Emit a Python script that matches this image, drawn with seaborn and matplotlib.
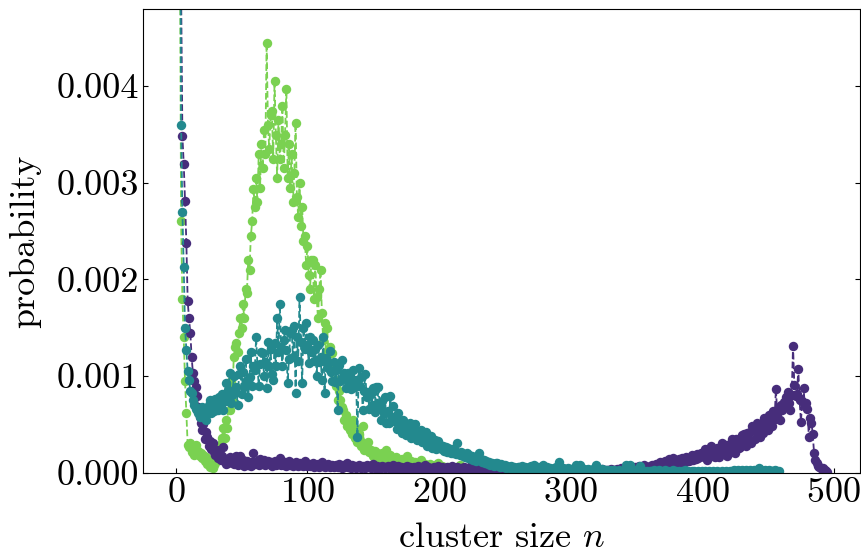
import numpy as np
import matplotlib
matplotlib.use("Agg")
import matplotlib.pyplot as plt
import seaborn as sns

# probabilities, in units of 1e-4, for cluster sizes n = 1, 2, 3, ...
green_p = [
    400, 150, 60, 26, 18, 14, 9.5, 6.2, 2.9, 2.7, 3.1, 2.2,
    2.5, 1.8, 2.9, 2.0, 2.3, 1.7, 2.1, 1.5, 1.8, 1.2, 1.6, 0.9, 1.3, 0.6, 1.0, 0.5, 0.8, 1.0, 1.3, 1.8, 2.4, 3.0, 3.6,
    4.6, 3.6, 5.5, 4.6, 7.5, 6.5, 9.5, 7.5, 12.0, 13.0, 13.4, 12.5, 14.5, 16.0, 15.0, 17.5, 16.0, 19.0, 18.6, 22.0, 21.0, 24.5, 26.0, 29.4, 27.5,
    30.5, 28.0, 33.0, 29.5, 34.0, 31.5, 35.5, 33.0, 44.5, 36.0, 33.5, 37.0, 37.4, 32.5, 40.5, 35.0, 30.5, 36.5, 32.5, 34.0,
    38.0, 31.5, 35.0, 39.7, 30.5, 34.0, 29.5, 33.0, 28.0, 31.0, 36.2, 28.5, 26.5, 30.0, 25.5, 27.5, 24.0, 24.5, 21.5, 23.5,
    20.5, 19.0, 22.0, 22.0, 18.0, 21.5, 18.2, 16.0, 19.0, 21.0, 16.5, 13.7, 15.5, 12.5, 15.0, 12.4, 13.0, 11.0, 12.4, 11.0,
    9.6, 9.0, 7.5, 8.5, 7.5, 6.8, 6.5, 5.5, 6.0, 4.8, 5.5, 4.4, 5.0, 4.0, 5.5, 3.6, 4.5, 3.2, 4.0, 3.4,
    2.8, 4.8, 2.4, 3.0, 2.6, 3.2, 2.2, 2.4, 2.0, 1.7, 2.3, 1.6, 2.0, 1.5, 1.9, 1.4, 2.1, 1.6, 1.3, 2.4,
    1.5, 1.2, 1.8, 1.1, 1.4, 1.0, 1.6, 1.2, 0.9, 1.3, 1.0, 1.4, 0.9, 1.1, 0.8, 1.7, 1.0, 0.8, 1.2, 0.9,
    0.7, 1.1, 0.8, 1.0, 0.7, 1.3, 0.8, 0.6, 0.9, 0.7, 0.8, 0.6, 0.9, 0.5, 0.7, 0.6, 0.8, 0.5, 1.0, 0.6,
    0.5, 0.7, 0.4, 0.6, 0.5, 0.4, 0.6, 0.5, 0.4, 0.5, 0.4, 0.3, 0.5, 0.4, 0.3, 0.8, 0.3, 0.4, 0.3, 0.2,
    0.4, 0.3, 0.2, 0.3, 0.2, 0.3, 0.2, 0.2, 0.3, 0.2, 0.2, 0.1, 0.2, 0.2, 0.1, 0.2, 0.1, 0.1, 0.2, 0.1,
    0.1, 0.1, 0.2, 0.1, 0.1, 0.1, 0.1, 0.1, 0.1, 0.1, 0.1, 0.05, 0.1, 0.05, 0.05,
]

teal_p = [
    500, 200, 80, 36, 27, 21.3, 15, 12.7, 10.5, 9.6, 8.5, 8.3,
    7.5, 7.0, 6.6, 6.5, 6.2, 5.8, 6.4, 6.8, 6.0, 5.7, 5.5, 6.3, 7.0, 7.5, 6.2, 6.9, 6.4, 7.6, 7.2, 6.5, 7.8, 7.0, 8.2,
    6.5, 8.0, 9.3, 7.4, 8.6, 10.3, 7.2, 8.0, 10.0, 8.4, 8.9, 7.0, 10.2, 11.0, 8.2, 10.4, 8.9, 11.8, 9.6, 7.8, 9.9, 12.5, 9.0, 11.0, 10.6,
    14.0, 11.2, 9.0, 11.3, 12.5, 12.4, 10.0, 11.5, 8.8, 13.5, 11.0, 12.8, 10.2, 9.6, 13.4, 11.0, 16.0, 12.5, 17.5, 13.0,
    11.0, 13.7, 14.8, 12.7, 9.3, 11.8, 14.5, 14.8, 12.0, 15.2, 8.3, 14.0, 11.6, 18.2, 13.5, 9.3, 15.0, 12.8, 15.5, 13.2,
    11.4, 14.0, 12.5, 13.7, 11.6, 12.8, 10.0, 13.2, 11.5, 12.0, 9.6, 14.0, 8.3, 11.9, 11.3, 10.8, 12.6, 10.4, 9.5, 11.5,
    9.4, 10.6, 6.5, 11.2, 9.5, 11.7, 9.9, 10.3, 8.8, 9.6, 10.3, 10.0, 8.7, 9.4, 10.6, 8.9, 9.6, 3.7, 10.8, 9.0,
    9.9, 6.5, 8.5, 10.2, 7.8, 8.4, 6.6, 8.2, 7.0, 8.8, 6.3, 8.9, 6.8, 8.9, 7.0, 5.5, 7.4, 6.2, 7.8, 5.2,
    6.4, 5.2, 7.9, 5.8, 6.9, 5.4, 5.9, 4.5, 6.2, 4.8, 5.3, 4.1, 5.5, 4.9, 3.9, 5.0, 4.2, 5.2, 3.6, 4.8,
    4.1, 5.0, 3.4, 4.3, 3.6, 4.4, 3.2, 3.9, 3.3, 4.2, 2.8, 3.6, 3.0, 3.8, 2.6, 3.2, 3.4, 2.5, 3.3, 2.6,
    2.9, 2.5, 2.8, 2.3, 2.7, 2.2, 2.6, 2.4, 2.0, 2.5, 2.1, 2.3, 1.9, 3.1, 2.0, 1.8, 2.2, 1.7, 1.9, 1.6,
    2.0, 1.5, 1.8, 1.4, 1.7, 1.3, 1.6, 1.2, 1.5, 2.0, 1.3, 1.4, 1.1, 1.3, 1.0, 1.2, 0.9, 1.1, 0.8, 1.0,
    0.9, 0.7, 1.0, 1.0, 0.8, 0.6, 0.9, 0.7, 0.6, 0.8, 0.5, 0.7, 0.6, 0.5, 0.7, 0.4, 0.6, 0.5, 0.4, 0.6,
    0.6, 0.5, 0.7, 0.4, 0.6, 0.5, 0.4, 0.6, 0.5, 0.7, 0.4, 0.8, 0.5, 0.4, 0.6, 0.3, 0.5, 0.4, 0.8, 0.5,
    0.4, 0.6, 0.3, 0.5, 0.4, 0.3, 0.5, 0.4, 0.6, 0.3, 1.1, 0.4, 0.3, 0.5, 0.3, 0.4, 0.3, 0.5, 0.2, 0.4,
    0.3, 0.4, 0.5, 0.8, 0.3, 0.4, 0.8, 0.3, 0.2, 0.4, 0.3, 0.2, 0.4, 0.3, 0.2, 0.3, 0.4, 0.2, 0.8, 0.3,
    0.2, 0.3, 0.2, 0.4, 0.2, 0.3, 0.2, 0.3, 0.2, 0.1, 0.3, 0.2, 0.3, 0.2, 0.1, 0.2, 0.3, 0.2, 0.1, 0.2,
    0.3, 0.8, 0.2, 0.3, 0.8, 0.2, 0.1, 0.2, 0.3, 0.2, 0.1, 0.2, 0.7, 0.2, 0.1, 0.2, 0.1, 0.2, 0.1, 0.2,
    0.2, 0.1, 0.3, 0.2, 0.1, 0.2, 0.3, 0.1, 0.2, 0.1, 0.2, 0.3, 0.1, 0.2, 0.1, 0.2, 0.1, 0.3, 0.1, 0.2,
    0.1, 0.2, 0.1, 0.1, 0.2, 0.1, 0.3, 0.1, 0.2, 0.1, 0.1, 0.2, 0.1, 0.2, 0.1, 0.1, 0.2, 0.1, 0.1, 0.2,
    0.1, 0.2, 0.1, 0.1, 0.2, 0.1, 0.1, 0.2, 0.1, 0.1, 0.2, 0.1, 0.1, 0.1, 0.2, 0.1, 0.1, 0.2, 0.1, 0.1,
    0.2, 0.1, 0.2, 0.3, 0.2, 0.2, 0.3, 0.2, 0.2, 0.3, 0.2, 0.2, 0.3, 0.2, 0.2, 0.3, 0.2, 0.2, 0.3, 0.2,
    0.2, 0.3, 0.5, 0.2, 0.3, 0.2, 0.2, 0.3, 0.2, 0.2, 0.3, 0.2, 0.2, 0.2, 0.3, 0.2, 0.2, 0.2,
]

purple_p = [
    800, 300, 100, 50, 34.8, 32.0, 28.1, 23.8, 17.8, 16.0, 14.5, 12.0,
    10.3, 9.5, 8.9, 7.9, 6.8, 5.8, 5.2, 4.4, 5.0, 3.5, 4.2, 3.7, 2.8, 3.3, 2.5, 3.1, 2.2, 1.8, 2.4, 1.5, 2.0, 1.3, 1.7, 2.7, 1.2, 0.9, 1.4, 1.0,
    1.6, 1.1, 1.4, 0.9, 1.2, 1.7, 0.8, 1.1, 1.7, 0.9, 1.3, 0.7, 1.0, 1.2, 0.8, 1.0, 0.7, 1.1, 2.0, 0.9,
    1.0, 1.2, 0.8, 1.4, 0.9, 1.1, 1.3, 0.8, 1.0, 1.2, 0.9, 1.1, 0.7, 1.0, 1.2, 0.8, 1.0, 0.9, 1.5, 0.8,
    1.0, 0.8, 1.1, 0.7, 0.9, 1.2, 0.8, 1.0, 0.7, 0.9, 1.1, 0.8, 0.7, 1.0, 0.8, 0.9, 0.7, 1.2, 0.8, 0.7,
    0.9, 0.7, 0.8, 1.0, 0.6, 0.8, 0.7, 0.9, 0.6, 0.8, 1.1, 0.7, 0.6, 0.8, 0.7, 0.9, 0.6, 0.7, 0.8, 0.6,
    0.7, 0.8, 0.6, 0.9, 0.7, 0.5, 0.8, 0.6, 0.7, 1.0, 0.6, 0.7, 0.5, 0.8, 0.6, 0.7, 0.5, 0.6, 0.8, 0.6,
    0.5, 0.7, 0.6, 0.5, 0.8, 0.6, 0.7, 0.5, 0.6, 0.9, 0.5, 0.6, 0.7, 0.5, 0.6, 0.5, 0.7, 0.6, 0.5, 0.6,
    0.7, 0.5, 0.6, 0.5, 0.8, 0.5, 0.6, 0.5, 0.7, 0.5, 0.6, 0.5, 0.4, 0.6, 0.5, 0.7, 0.5, 0.6, 0.4, 0.5,
    0.6, 0.5, 0.4, 0.7, 0.5, 0.6, 0.4, 0.5, 0.8, 0.5, 0.4, 0.6, 0.5, 0.4, 0.5, 0.6, 0.4, 0.5, 0.7, 0.4,
    0.5, 0.6, 0.4, 0.5, 0.4, 0.6, 0.5, 0.4, 0.5, 0.7, 0.4, 0.5, 0.4, 0.6, 0.5, 0.4, 0.5, 0.4, 0.6, 0.4,
    0.5, 0.4, 0.5, 0.7, 0.4, 0.5, 0.4, 0.5, 0.4, 0.6, 0.4, 0.5, 0.4, 0.4, 0.5, 0.4, 0.6, 0.4, 0.5, 0.4,
    0.2, 0.3, 0.2, 0.4, 0.2, 0.3, 0.2, 0.2, 0.3, 0.2, 0.3, 0.2, 0.2, 0.4, 0.2, 0.3, 0.2, 0.2, 0.3, 0.2,
    0.2, 0.3, 0.2, 0.2, 0.4, 0.2, 0.2, 0.3, 0.2, 0.2, 0.3, 0.2, 0.2, 0.3, 0.2, 0.5, 0.2, 0.2, 0.3, 0.2,
    0.2, 0.3, 0.2, 0.2, 0.3, 0.2, 0.4, 0.2, 0.2, 0.3, 0.2, 0.2, 0.3, 0.2, 0.2, 0.4, 0.2, 0.3, 0.2, 0.2,
    0.3, 0.2, 0.2, 0.3, 0.2, 0.2, 0.3, 0.2, 0.4, 0.2, 0.2, 0.3, 0.2, 0.3, 0.2, 0.2, 0.3, 0.2, 0.2, 0.3,
    0.2, 0.3, 0.2, 0.4, 0.2, 0.3, 0.2, 0.3, 0.3, 0.2, 0.4, 0.3, 0.2, 0.3, 0.4, 0.2, 0.3, 0.5, 0.3, 0.4,
    0.3, 0.5, 0.4, 0.3, 0.6, 0.4, 0.5, 0.3, 0.6, 0.4, 0.5, 0.7, 0.4, 0.6, 0.5, 0.8, 0.5, 0.6, 0.4, 0.7,
    0.6, 0.8, 0.5, 0.7, 0.9, 0.6, 0.8, 1.1, 0.7, 1.0, 0.8, 1.2, 0.9, 1.1, 1.4, 0.9, 1.2, 1.5, 1.0, 1.3,
    1.1, 1.4, 1.2, 1.0, 1.5, 1.3, 1.1, 1.6, 1.3, 1.2, 1.5, 1.8, 1.3, 1.6, 1.4, 1.9, 1.5, 1.7, 2.0, 1.7,
    1.6, 2.5, 1.8, 1.3, 2.2, 1.9, 2.8, 1.7, 2.4, 1.6, 2.6, 2.2, 1.6, 2.3, 3.1, 2.1, 2.5, 2.9, 1.7, 2.6,
    3.0, 2.2, 3.5, 2.8, 2.1, 3.5, 3.0, 2.6, 2.7, 3.9, 3.3, 4.0, 2.8, 4.1, 3.4, 4.2, 3.1, 4.8, 4.5, 3.5,
    4.4, 5.2, 4.2, 3.7, 5.0, 4.1, 5.7, 4.9, 5.3, 4.4, 6.0, 6.0, 4.8, 6.4, 5.6, 8.7, 6.0, 6.8, 5.5, 7.0,
    6.5, 7.3, 6.9, 7.8, 8.4, 7.2, 6.5, 8.0, 13.1, 9.1, 7.9, 8.2, 10.7, 7.5, 5.3, 7.4, 8.8, 6.9, 7.2, 6.6,
    3.7, 5.7, 5.2, 4.0, 2.0, 1.3, 1.0, 0.7, 0.6, 0.5, 0.4, 0.5, 0.3, 0.2, 0.1,
]

colors = {"green": "#7ad151", "purple": "#472d7b", "teal": "#23898e"}

sns.set_style("ticks")
plt.rcParams.update({
    "font.family": "serif",
    "font.serif": ["cmr10"],
    "mathtext.fontset": "cm",
    "axes.formatter.use_mathtext": True,
    "font.size": 26,
    "text.color": "black",
    "axes.labelcolor": "black",
    "axes.edgecolor": "black",
    "xtick.color": "black",
    "ytick.color": "black",
    "xtick.direction": "in",
    "ytick.direction": "in",
    "ytick.right": True,
})

fig, ax = plt.subplots(figsize=(8.61, 5.53), dpi=100)
fig.subplots_adjust(left=0.166, right=0.999, bottom=0.145, top=0.984)

# draw order: green, purple, teal (teal sits on top)
for name, vals in [("green", green_p), ("purple", purple_p), ("teal", teal_p)]:
    p = np.array(vals) * 1e-4
    n = np.arange(1, len(p) + 1)
    sns.lineplot(x=n, y=p, ax=ax, color=colors[name], linestyle="--",
                 linewidth=1.3, marker="o", markersize=6.8,
                 markeredgecolor=colors[name], markeredgewidth=0,
                 errorbar=None, sort=False)

ax.set_xlim(-25, 520)
ax.set_ylim(0, 0.0048)
ax.set_yticks([0, 0.001, 0.002, 0.003, 0.004])
ax.set_yticklabels(["0.000", "0.001", "0.002", "0.003", "0.004"])
ax.set_xticks([0, 100, 200, 300, 400, 500])
ax.tick_params(axis="both", labelsize=26, pad=3)
ax.set_xlabel("cluster size $n$", fontsize=26, labelpad=10)
ax.set_ylabel("probability", fontsize=26, labelpad=11)

fig.savefig("out.png", dpi=100)
